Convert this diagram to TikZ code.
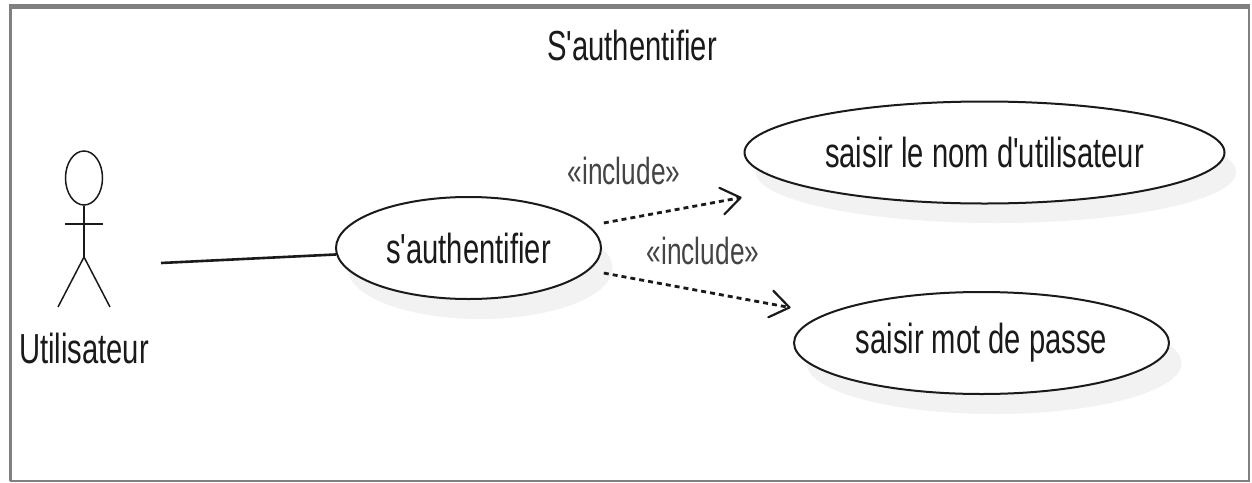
\documentclass[tikz,border=0pt]{standalone}
\usepackage{fontspec}
\setmainfont[FakeStretch=0.695,Ligatures=TeXOff]{Liberation Sans}
\usetikzlibrary{arrows.meta,shapes.geometric}
\definecolor{framegray}{HTML}{808080}
\definecolor{shadowgray}{HTML}{F2F2F2}
\definecolor{inkdark}{HTML}{1A1A1A}
\definecolor{labelgray}{HTML}{444444}
\tikzset{
  lbl/.style={inner sep=0pt,text=inkdark,font=\fontsize{42}{46}\selectfont},
  stereo/.style={inner sep=0pt,text=labelgray,font=\fontsize{37.8}{42}\selectfont},
  usecase/.style={ellipse,draw=inkdark,line width=2pt,fill=white,inner sep=0pt,
    minimum height=102pt,text=inkdark,font=\fontsize{42}{46}\selectfont},
  shade/.style={fill=shadowgray,draw=none},
  inc/.style={draw=inkdark,line width=2.8pt,dash pattern=on 5pt off 4pt,
    -{Straight Barb[length=19pt,width=27pt,line width=2.2pt,round]}},
  assoc/.style={draw=inkdark,line width=2.6pt},
  stick/.style={draw=inkdark,line width=1.5pt}
}
\begin{document}
\begin{tikzpicture}[x=1pt,y=-1pt]
\useasboundingbox (0,0) rectangle (1252,482);
\fill[white] (0,0) rectangle (1252,482);
% frame
\draw[framegray,line width=2.2pt] (1249,7) -- (1249,481) -- (10,481);
\draw[framegray,line width=3pt] (10,481) -- (10,7);
\draw[framegray,line width=4.5pt] (8.5,6.5) -- (1250,6.5);
\node[lbl] (title) at (632,45) {S'authentifier};
% shadows
\fill[shade] (480,268) ellipse [x radius=132.5,y radius=51];
\fill[shade] (996,172) ellipse [x radius=240,y radius=51];
\fill[shade] (994,363) ellipse [x radius=187.5,y radius=51];
% use cases
\node[usecase,minimum width=265pt] (auth) at (468.5,248) {s'authentifier};
\node[usecase,minimum width=480pt] (nom) at (984.5,152.5) {saisir le nom d'utilisateur};
\node[usecase,minimum width=375pt] (pass) at (981.5,343) {saisir mot de passe};
% actor
\node[ellipse,stick,minimum width=37pt,minimum height=54pt,inner sep=0pt] (head) at (84,178) {};
\coordinate (hip) at (84,257);
\coordinate (armL) at (65,224);
\coordinate (armR) at (103,224);
\coordinate (footL) at (58,307);
\coordinate (footR) at (110,307);
\draw[stick] (head.south) -- (hip);
\draw[stick,line width=2.6pt] (armL) -- (armR);
\draw[stick] (footL) -- (hip) -- (footR);
\node[lbl] (actor) at (84,348) {Utilisateur};
% connectors
\coordinate (assocStart) at (161,263);
\draw[assoc] (assocStart) -- (auth);
\draw[inc,shorten <=15pt,shorten >=61pt] (auth) -- (nom);
\draw[inc,shorten <=15pt,shorten >=35pt] (auth) -- (pass);
\node[stereo] (inc1) at (624,171) {«include»};
\node[stereo] (inc2) at (703,251) {«include»};
\end{tikzpicture}
\end{document}
